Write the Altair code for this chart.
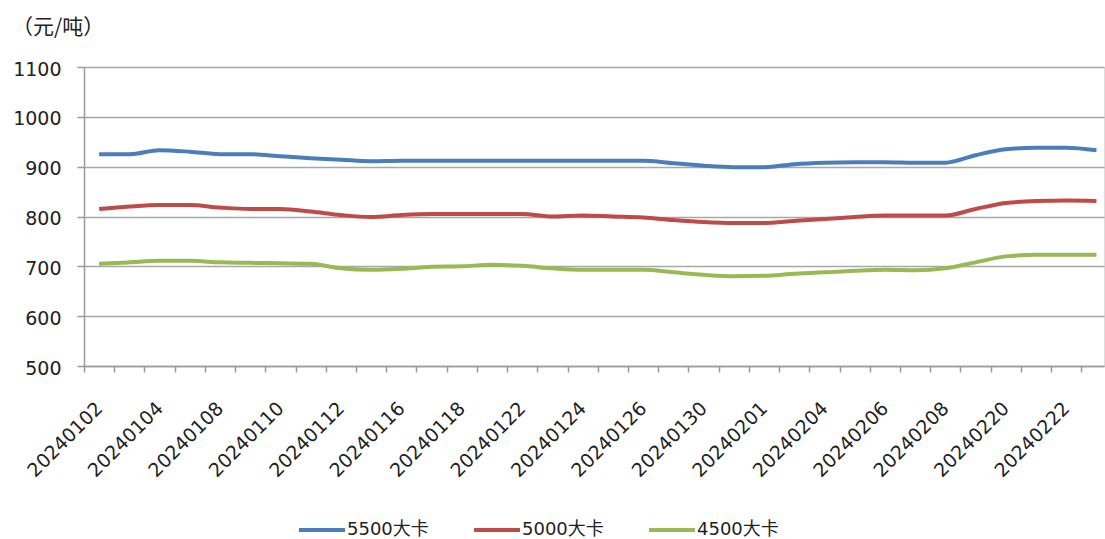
import json

import altair as alt
import pandas as pd

# Trading days (category axis); every other one is labelled
dates = [
    "20240102", "20240103", "20240104", "20240105", "20240108", "20240109",
    "20240110", "20240111", "20240112", "20240115", "20240116", "20240117",
    "20240118", "20240119", "20240122", "20240123", "20240124", "20240125",
    "20240126", "20240129", "20240130", "20240131", "20240201", "20240202",
    "20240204", "20240205", "20240206", "20240207", "20240208", "20240219",
    "20240220", "20240221", "20240222", "20240223",
]

# Thermal coal prices, yuan per tonne
kcal_5500 = [925, 925, 933, 930, 925, 925, 921, 917, 914, 911,
             912, 912, 912, 912, 912, 912, 912, 912, 912, 907,
             902, 899, 899, 905, 908, 909, 909, 908, 908, 923,
             935, 938, 938, 933]
kcal_5000 = [815, 820, 823, 823, 818, 815, 815, 810, 803, 799,
             803, 805, 805, 805, 805, 800, 802, 800, 798, 793,
             789, 787, 787, 791, 795, 799, 802, 802, 802, 815,
             827, 831, 832, 831]
kcal_4500 = [705, 708, 711, 711, 708, 707, 706, 705, 696, 693,
             695, 699, 700, 703, 701, 696, 693, 693, 693, 688,
             683, 680, 681, 685, 688, 691, 693, 692, 696, 708,
             720, 723, 723, 723]

series_names = ["5500大卡", "5000大卡", "4500大卡"]
series_colors = ["#4A7EBB", "#BE4B48", "#98B954"]
y_ticks = [500, 600, 700, 800, 900, 1000, 1100]
unit_label = "（元/吨）"

FONT = "DejaVu Sans, Noto Sans CJK SC"
CJK_FONT = "Noto Sans CJK SC"
TEXT = "#222222"
AXIS_GREY = "#9a9a9a"

rows = []
for name, vals in zip(series_names, [kcal_5500, kcal_5000, kcal_4500]):
    for i, (d, v) in enumerate(zip(dates, vals)):
        rows.append({"idx": i, "date": d, "series": name, "price": v})
df = pd.DataFrame(rows)

# Ticks sit between categories; labels are shifted onto the category centres
tick_positions = [i - 0.5 for i in range(len(dates))]
label_expr = (
    "(round(datum.value + 0.5) % 2 == 0) ? "
    + json.dumps(dates)
    + "[round(datum.value + 0.5)] : ''"
)

x_axis = alt.Axis(
    values=tick_positions,
    labelExpr=label_expr,
    labelAngle=-45,
    labelAlign="right",
    labelBaseline="middle",
    labelOffset=15,
    labelPadding=33,
    labelFlush=False,
    labelOverlap=False,
    labelFont=FONT,
    labelFontSize=19,
    labelColor=TEXT,
    tickSize=6,
    tickColor=AXIS_GREY,
    tickWidth=1.5,
    domainColor=AXIS_GREY,
    domainWidth=1.5,
    grid=False,
    title=None,
)

y_axis = alt.Axis(
    values=y_ticks,
    format="d",
    labelFont=FONT,
    labelFontSize=19,
    labelColor=TEXT,
    labelPadding=16,
    labelOffset=2,
    tickSize=7,
    tickColor=AXIS_GREY,
    tickWidth=1.5,
    domainColor=AXIS_GREY,
    domainWidth=1.5,
    grid=True,
    gridColor="#a8a8a8",
    gridWidth=1.4,
    title=None,
)

legend = alt.Legend(
    orient="none",
    legendX=213,
    legendY=438,
    direction="horizontal",
    title=None,
    symbolType="stroke",
    symbolSize=2116,
    symbolStrokeWidth=4,
    labelFont=FONT,
    labelFontSize=18,
    labelColor=TEXT,
    labelOffset=0,
    columnPadding=37,
)

chart = (
    alt.Chart(df)
    .mark_line(strokeWidth=4, interpolate="monotone")
    .encode(
        x=alt.X(
            "idx:Q",
            scale=alt.Scale(domain=[-0.5, 33.25], nice=False, zero=False),
            axis=x_axis,
        ),
        y=alt.Y(
            "price:Q",
            scale=alt.Scale(domain=[500, 1100], nice=False, zero=False),
            axis=y_axis,
        ),
        color=alt.Color(
            "series:N",
            scale=alt.Scale(domain=series_names, range=series_colors),
            legend=legend,
        ),
    )
    .properties(
        width=1020,
        height=299,
        autosize=alt.AutoSizeParams(type="none"),
        padding={"left": 84, "top": 67, "right": 1, "bottom": 173},
        title=alt.TitleParams(
            unit_label,
            anchor="start",
            frame="group",
            dx=-72,
            offset=22,
            font=CJK_FONT,
            fontSize=21,
            fontWeight="normal",
            color=TEXT,
        ),
    )
    .configure_view(stroke=None)
    .configure(background="white")
)

chart.save("out.html", embed_options={"renderer": "svg", "actions": False})
